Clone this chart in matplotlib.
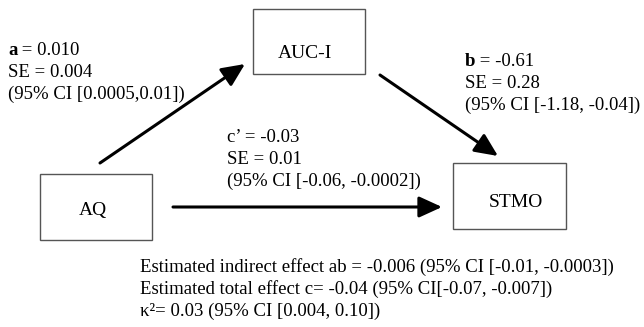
import matplotlib
matplotlib.use("Agg")
import matplotlib.pyplot as plt
from matplotlib.patches import Rectangle

# data
nodes = ["AQ", "AUC-I", "STMO"]
path_a = ["a", " = 0.010", "SE = 0.004", "(95% CI [0.0005,0.01])"]
path_b = ["b", " = -0.61", "SE = 0.28", "(95% CI [-1.18, -0.04])"]
path_c = ["c\u2019 = -0.03", "SE = 0.01", "(95% CI [-0.06, -0.0002])"]
summary = [
    "Estimated indirect effect ab = -0.006 (95% CI [-0.01, -0.0003])",
    "Estimated total effect c= -0.04 (95% CI[-0.07, -0.007])",
    "\u03ba\u00b2= 0.03 (95% CI [0.004, 0.10])",
]

# layout (pixel space)
boxes = {"AQ": (40, 174, 112, 66), "AUC-I": (253, 9, 112, 65), "STMO": (453, 163, 113, 66)}
label_pos = {"AQ": (93, 215), "AUC-I": (305, 58), "STMO": (516, 207)}
arrows = [((100, 163), (245, 64)), ((380, 75), (498, 156)), ((173, 207), (442, 207))]

FONT = ["Liberation Serif", "DejaVu Serif"]
FS = 13.5
LH = 22.2

fig = plt.figure(figsize=(6.44, 3.27), dpi=100)
ax = fig.add_axes([0, 0, 1, 1])
ax.set_xlim(0, 644)
ax.set_ylim(327, 0)
ax.axis("off")

for name in nodes:
    x, y, w, h = boxes[name]
    ax.add_patch(Rectangle((x, y), w, h, fill=False, edgecolor="#555555", lw=1.0))
    tx, ty = label_pos[name]
    ax.text(tx, ty, name, ha="center", va="baseline", fontsize=FS + 0.5, family=FONT)

for (x0, y0), (x1, y1) in arrows:
    ax.annotate("", xy=(x1, y1), xytext=(x0, y0),
                arrowprops=dict(arrowstyle="-|>,head_length=0.7,head_width=0.32",
                                lw=2.2, color="black", shrinkA=0, shrinkB=0,
                                mutation_scale=20))


def block(x, y, lines, bold_first=None):
    for i, s in enumerate(lines):
        yy = y + i * LH
        if i == 0 and bold_first is not None:
            t = ax.text(x, yy, bold_first, ha="left", va="baseline", fontsize=FS,
                        family=FONT, fontweight="bold")
            fig.canvas.draw()
            bb = t.get_window_extent()
            x_end = ax.transData.inverted().transform((bb.x1, bb.y0))[0]
            ax.text(x_end, yy, s, ha="left", va="baseline", fontsize=FS, family=FONT)
        else:
            ax.text(x, yy, s, ha="left", va="baseline", fontsize=FS, family=FONT)


block(8, 55, [path_a[1]] + path_a[2:], bold_first=path_a[0])
block(465, 66, [path_b[1]] + path_b[2:], bold_first=path_b[0])
block(227, 142, path_c)
block(140, 272, summary)

fig.savefig("out.png", dpi=100)
